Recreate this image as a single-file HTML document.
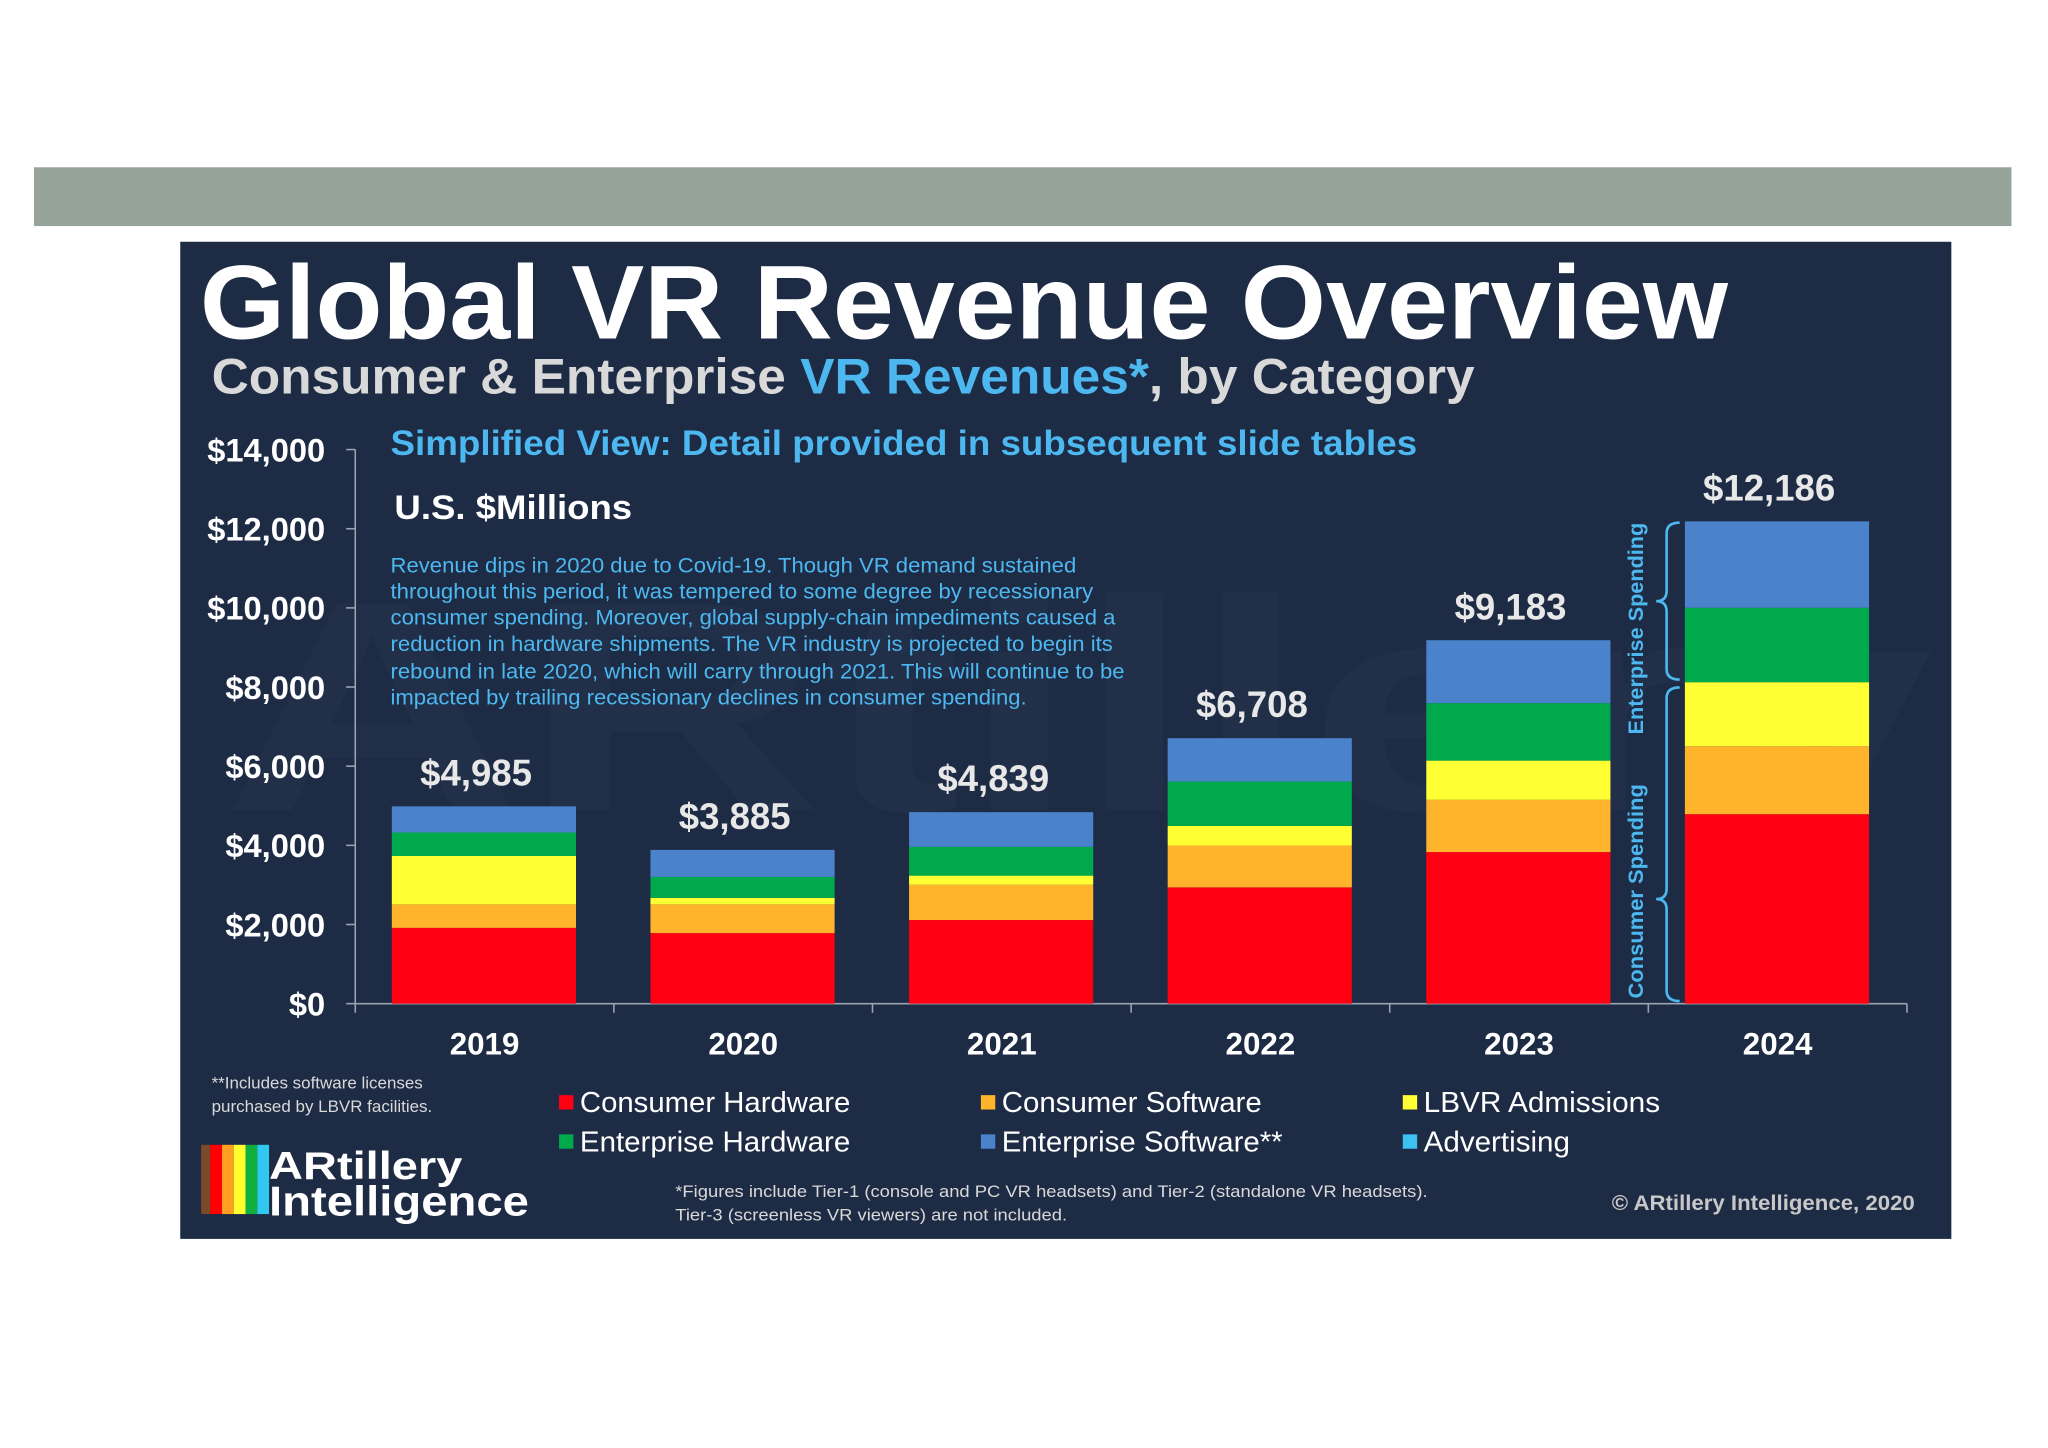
<!DOCTYPE html>
<html><head><meta charset="utf-8"><style>
html,body{margin:0;padding:0;background:#fff;}
svg{display:block;font-family:"Liberation Sans",Arial,sans-serif;}
</style></head><body>
<svg id="chart" width="2048" height="1448" viewBox="0 0 1568 1108" preserveAspectRatio="none" xmlns="http://www.w3.org/2000/svg">
<rect x="0" y="0" width="1568" height="1108" fill="#ffffff"/>
<rect x="26" y="128" width="1514" height="45" fill="#95a398"/>
<rect x="138" y="185" width="1356" height="763" fill="#1d2b44"/>
<text x="170" y="620" font-size="230" font-weight="bold" fill="#212f49" textLength="1310" lengthAdjust="spacingAndGlyphs">ARtillery</text>
<text x="153" y="259" font-size="80" font-weight="bold" fill="#ffffff" textLength="1170" lengthAdjust="spacingAndGlyphs">Global VR Revenue Overview</text>
<text x="162" y="301" font-size="38" font-weight="bold" fill="#d9d9d9" textLength="967" lengthAdjust="spacingAndGlyphs">Consumer &amp; Enterprise <tspan fill="#4db8f0">VR Revenues*</tspan>, by Category</text>
<text x="299" y="348" font-size="27" font-weight="bold" fill="#4db8f0" textLength="786" lengthAdjust="spacingAndGlyphs">Simplified View: Detail provided in subsequent slide tables</text>
<text x="302" y="397" font-size="26" font-weight="bold" fill="#ffffff" textLength="182" lengthAdjust="spacingAndGlyphs">U.S. $Millions</text>
<g font-size="16" fill="#4db8f0">
<text x="299" y="438" textLength="525" lengthAdjust="spacingAndGlyphs">Revenue dips in 2020 due to Covid-19. Though VR demand sustained</text>
<text x="299" y="458" textLength="538" lengthAdjust="spacingAndGlyphs">throughout this period, it was tempered to some degree by recessionary</text>
<text x="299" y="478" textLength="555" lengthAdjust="spacingAndGlyphs">consumer spending. Moreover, global supply-chain impediments caused a</text>
<text x="299" y="498" textLength="553" lengthAdjust="spacingAndGlyphs">reduction in hardware shipments. The VR industry is projected to begin its</text>
<text x="299" y="519" textLength="562" lengthAdjust="spacingAndGlyphs">rebound in late 2020, which will carry through 2021. This will continue to be</text>
<text x="299" y="539" textLength="487" lengthAdjust="spacingAndGlyphs">impacted by trailing recessionary declines in consumer spending.</text>
</g>
<g id="axes"></g>
<g id="bars"></g>
<g id="labels"></g>
<g stroke="#4db8f0" stroke-width="2" fill="none">
<path d="M1286,400 Q1276,400 1276,408 L1276,452 Q1276,460 1268,460 Q1276,460 1276,468 L1276,512 Q1276,520 1286,520"/>
<path d="M1286,526 Q1276,526 1276,534 L1276,680 Q1276,688 1268,688 Q1276,688 1276,696 L1276,758 Q1276,766 1286,766"/>
</g>
<text transform="translate(1258,562) rotate(-90)" font-size="16" font-weight="bold" fill="#4db8f0" textLength="162" lengthAdjust="spacingAndGlyphs">Enterprise Spending</text>
<text transform="translate(1258,764) rotate(-90)" font-size="16" font-weight="bold" fill="#4db8f0" textLength="164" lengthAdjust="spacingAndGlyphs">Consumer Spending</text>
<g id="legend"></g>
<text font-size="13" fill="#d9d9d9"><tspan x="162" y="833">**Includes software licenses</tspan><tspan x="162" y="851">purchased by LBVR facilities.</tspan></text>
<g>
<rect x="154" y="876" width="7" height="53" fill="#7a4a2a"/>
<rect x="161" y="876" width="9" height="53" fill="#ff0000"/>
<rect x="170" y="876" width="9" height="53" fill="#ffa020"/>
<rect x="179" y="876" width="9" height="53" fill="#ffff30"/>
<rect x="188" y="876" width="9" height="53" fill="#10b040"/>
<rect x="197" y="876" width="9" height="53" fill="#30c8f0"/>
<text x="206" y="902" font-size="30" font-weight="bold" fill="#ffffff" textLength="148" lengthAdjust="spacingAndGlyphs">ARtillery</text>
<text x="206" y="930" font-size="32" font-weight="bold" fill="#ffffff" textLength="199" lengthAdjust="spacingAndGlyphs">Intelligence</text>
</g>
<text font-size="13" fill="#d9d9d9"><tspan x="517" y="916" textLength="576" lengthAdjust="spacingAndGlyphs">*Figures include Tier-1 (console and PC VR headsets) and Tier-2 (standalone VR headsets).</tspan><tspan x="517" y="934" textLength="300" lengthAdjust="spacingAndGlyphs">Tier-3 (screenless VR viewers) are not included.</tspan></text>
<text x="1466" y="926" text-anchor="end" font-size="16" font-weight="bold" fill="#c8c8c8" textLength="232" lengthAdjust="spacingAndGlyphs">© ARtillery Intelligence, 2020</text>
</svg>
<script>
const years = ['2019','2020','2021','2022','2023','2024'];
const consumerHardware = [1915,1783,2113,2938,3830,4787];
const consumerSoftware = [594,726,891,1057,1320,1717];
const lbvrAdmissions = [1222,165,231,495,991,1618];
const enterpriseHardware = [594,528,727,1122,1452,1881];
const enterpriseSoftware = [660,683,877,1096,1590,2183];
const advertising = [0,0,0,0,0,0];
const totalLabels = ['$4,985','$3,885','$4,839','$6,708','$9,183','$12,186'];
const yTicks = [0,2000,4000,6000,8000,10000,12000,14000];
const yTickLabels = ['$0','$2,000','$4,000','$6,000','$8,000','$10,000','$12,000','$14,000'];
const seriesNames = ['Consumer Hardware','Consumer Software','LBVR Admissions','Enterprise Hardware','Enterprise Software**','Advertising'];

const NS='http://www.w3.org/2000/svg';
const colors=['#ff0013','#ffb42c','#ffff33','#00a94b','#4a82cc','#3cc2f0'];
const series=[consumerHardware,consumerSoftware,lbvrAdmissions,enterpriseHardware,enterpriseSoftware,advertising];
const X0=272, CW=198, BW=141, BO=28, Y0=768, YMAX=14000, YTOP=344;
function yScale(v){return Y0-(v/YMAX)*(Y0-YTOP);}
function xCat(i){return X0+i*CW;}
function mk(tag,attrs,parent){const e=document.createElementNS(NS,tag);for(const k in attrs)e.setAttribute(k,attrs[k]);parent.appendChild(e);return e;}
const axes=document.getElementById('axes'),bars=document.getElementById('bars'),labels=document.getElementById('labels'),legend=document.getElementById('legend');
let a=mk('line',{x1:X0,y1:YTOP,x2:X0,y2:Y0,stroke:'#9aa3b0','stroke-width':1.2},axes);


a=mk('line',{x1:X0,y1:Y0,x2:xCat(years.length),y2:Y0,stroke:'#9aa3b0','stroke-width':1.2},axes);


yTicks.forEach((t,i)=>{
  mk('line',{x1:X0-7,y1:yScale(t),x2:X0,y2:yScale(t),stroke:'#9aa3b0','stroke-width':1.2},axes);
  const tx=mk('text',{x:249,y:yScale(t)+9,'text-anchor':'end','font-size':25,'font-weight':'bold',fill:'#ffffff'},axes);
  tx.textContent=yTickLabels[i];
  
  
});
for(let i=0;i<=years.length;i++){mk('line',{x1:xCat(i),y1:Y0,x2:xCat(i),y2:Y0+7,stroke:'#9aa3b0','stroke-width':1.2},axes);}
years.forEach((yr,i)=>{
  let cum=0;
  series.forEach((s,k)=>{
    const v=s[i]; if(v<=0)return;
    const r=mk('rect',{x:xCat(i)+BO,y:yScale(cum+v),width:BW,height:yScale(cum)-yScale(cum+v),fill:colors[k]},bars);
    
    
    cum+=v;
  });
  const tl=mk('text',{x:xCat(i)+BO+BW/2-6,y:yScale(cum)-16,'text-anchor':'middle','font-size':28,'font-weight':'bold',fill:'#e8e8e8'},labels);
  tl.textContent=totalLabels[i];
  
  
  const xl=mk('text',{x:xCat(i)+CW/2,y:807,'text-anchor':'middle','font-size':24,'font-weight':'bold',fill:'#ffffff'},labels);
  xl.textContent=yr;
  
  
});
const legX=[428,751,1074];
const legW=[207,199,181,207,215,112];
seriesNames.forEach((n,k)=>{
  const col=k%3,row=Math.floor(k/3);
  const g=mk('g',{},legend);
  
  
  mk('rect',{x:legX[col],y:838+row*30,width:11,height:11,fill:colors[k]},g);
  const t=mk('text',{x:legX[col]+16,y:851+row*30,'font-size':22,fill:'#ffffff',textLength:legW[k],lengthAdjust:'spacingAndGlyphs'},g);
  t.textContent=n;
});
</script>
</body></html>
